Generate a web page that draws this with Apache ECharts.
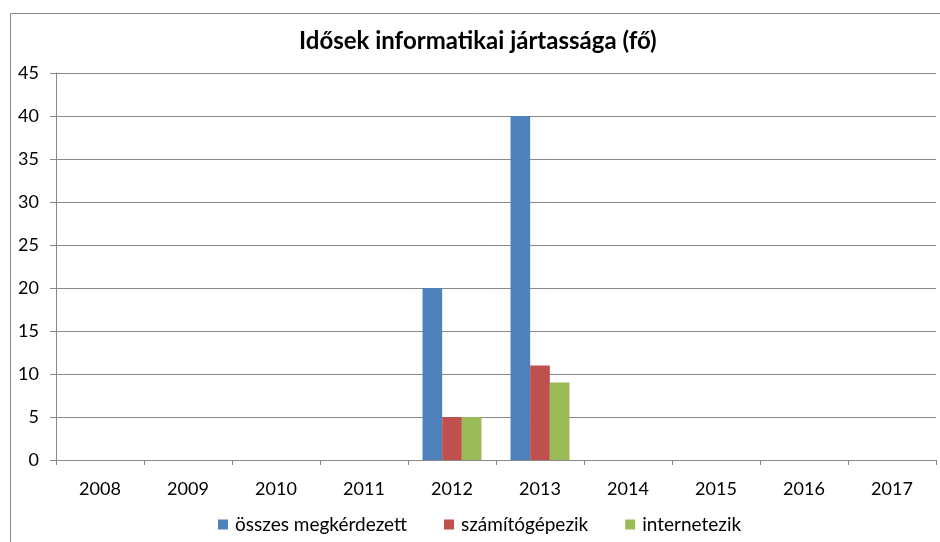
<!DOCTYPE html>
<html>
<head>
<meta charset="utf-8">
<script src="https://cdn.jsdelivr.net/npm/echarts@6/dist/echarts.min.js"></script>
<style>
  html, body { margin: 0; padding: 0; background: #fff; }
  #chart { width: 940px; height: 542px; }
</style>
</head>
<body>
<div id="chart"></div>
<script>
// Survey of seniors' computer skills (persons)
const years = ['2008', '2009', '2010', '2011', '2012', '2013', '2014', '2015', '2016', '2017'];
const surveyed = [null, null, null, null, 20, 40, null, null, null, null];
const usesComputer = [null, null, null, null, 5, 11, null, null, null, null];
const usesInternet = [null, null, null, null, 5, 9, null, null, null, null];
const seriesNames = ['összes megkérdezett', 'számítógépezik', 'internetezik'];
const seriesColors = ['#4F81BD', '#C0504D', '#9BBB59'];

const font = 'Lato, "Open Sans", sans-serif';
const chart = echarts.init(document.getElementById('chart'), null, { renderer: 'canvas' });

const seriesData = [surveyed, usesComputer, usesInternet];

chart.setOption({
  animation: false,
  backgroundColor: '#fff',
  title: {
    text: 'Idősek informatikai jártassága (fő)',
    left: 299,
    top: 29,
    padding: 0,
    textStyle: { fontFamily: font, fontSize: 24, fontWeight: 'bold', color: '#000' }
  },
  graphic: [{
    type: 'rect',
    shape: { x: 10.5, y: 13.5, width: 1000, height: 600 },
    style: { fill: null, stroke: '#888', lineWidth: 1 },
    silent: true
  }],
  legend: {
    bottom: 8,
    left: 218,
    padding: 0,
    itemWidth: 10,
    itemHeight: 10,
    itemGap: 37,
    icon: 'rect',
    textStyle: { fontFamily: font, fontSize: 19, color: '#000', padding: [0, 0, 0, 2] },
    data: seriesNames
  },
  grid: { left: 56, right: 4, top: 73, bottom: 82 },
  xAxis: {
    type: 'category',
    data: years,
    axisLine: { lineStyle: { color: '#888', width: 1 } },
    axisTick: { show: true, length: 5, lineStyle: { color: '#888' } },
    axisLabel: { fontFamily: font, fontSize: 18, color: '#000', margin: 20 }
  },
  yAxis: {
    type: 'value',
    min: 0,
    max: 45,
    interval: 5,
    axisLine: { show: true, lineStyle: { color: '#888', width: 1 } },
    axisTick: { show: true, length: 6, inside: false, lineStyle: { color: '#888' } },
    axisLabel: { fontFamily: font, fontSize: 18, color: '#000', margin: 17 },
    splitLine: { lineStyle: { color: '#888', width: 1 } }
  },
  series: seriesNames.map((name, i) => ({
    name,
    type: 'bar',
    data: seriesData[i],
    itemStyle: { color: seriesColors[i] },
    barGap: '0%',
    barCategoryGap: '33%'
  }))
});
</script>
</body>
</html>
